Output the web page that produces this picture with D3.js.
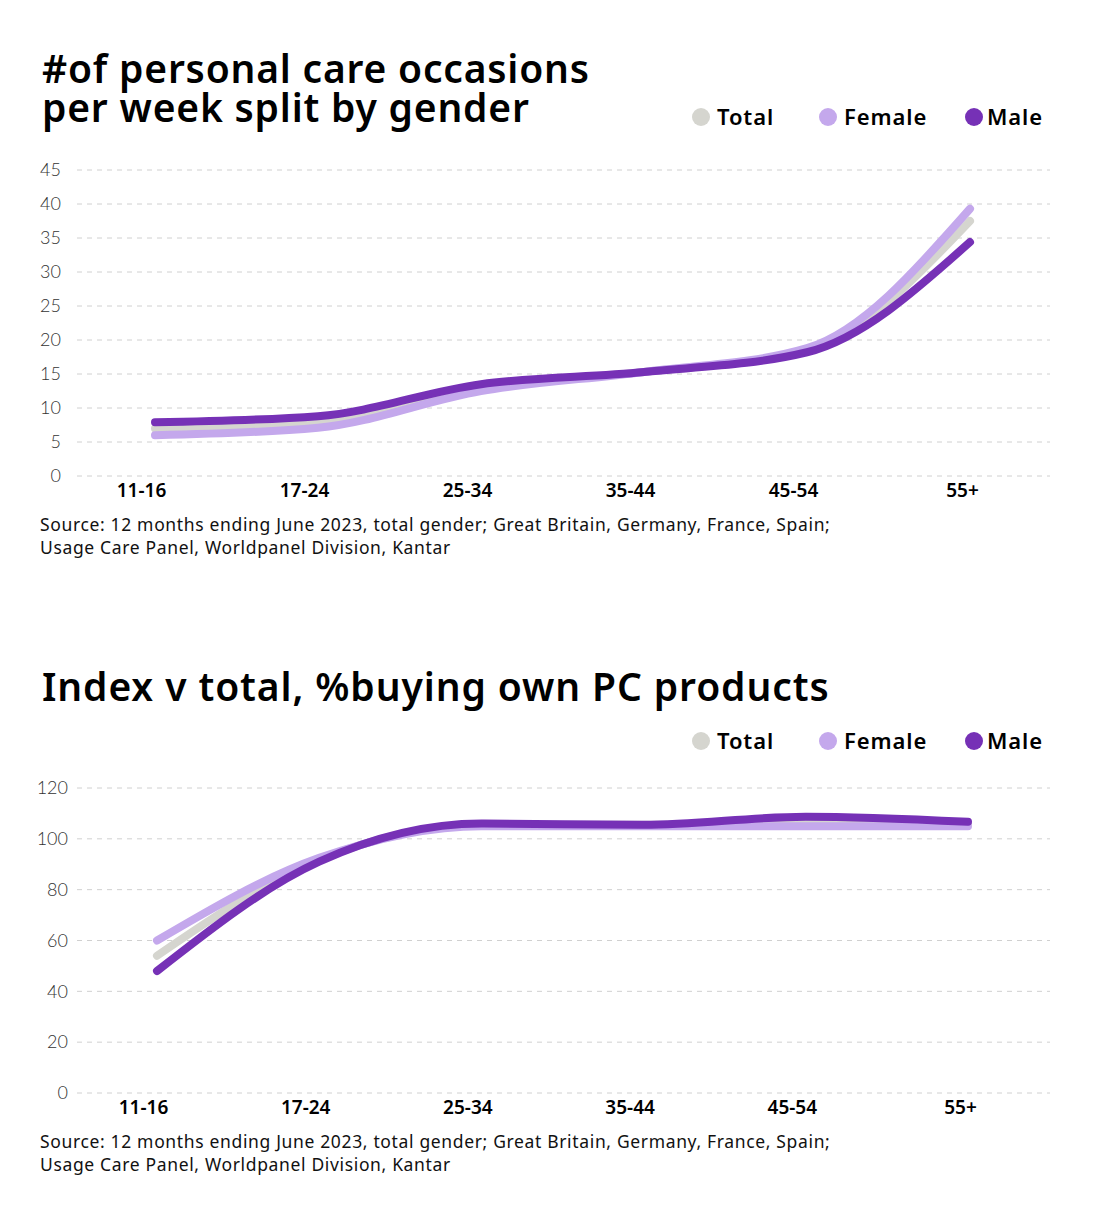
<!DOCTYPE html>
<html>
<head>
<meta charset="utf-8">
<script src="https://cdn.jsdelivr.net/npm/d3@7"></script>
<style>
  body { margin: 0; background: #fff; }
  svg { font-family: "Noto Sans", sans-serif; }
</style>
</head>
<body>
<svg width="1104" height="1212"></svg>
<script>
// data
const ageGroups = ['11-16', '17-24', '25-34', '35-44', '45-54', '55+']
const seriesNames = ['Total', 'Female', 'Male']
const colors = { Total: '#d5d5cf', Female: '#c4a8ec', Male: '#7631b6' }

const occasionsTotal = [7.0, 7.9, 13.1, 15.3, 18.5, 37.5]
const occasionsFemale = [6.0, 7.1, 12.5, 15.3, 18.8, 39.3]
const occasionsMale = [7.9, 8.8, 13.5, 15.3, 18.2, 34.4]
const occasionsTicks = [0, 5, 10, 15, 20, 25, 30, 35, 40, 45]

const indexTotal = [54, 91.7, 105.5, 105.5, 107, 106]
const indexFemale = [60, 92.5, 105, 105, 105, 105]
const indexMale = [48, 91, 106, 105.5, 108.7, 106.7]
const indexTicks = [0, 20, 40, 60, 80, 100, 120]

const sourceLines = [
  'Source: 12 months ending June 2023, total gender; Great Britain, Germany, France, Spain;',
  'Usage Care Panel, Worldpanel Division, Kantar'
]

const svg = d3.select('svg')

const drawChart = (cfg) => {
  const g = svg.append('g')

  // title (one text, lines as tspans)
  const title = g.append('text')
    .attr('font-size', 39).attr('font-weight', 600)
    .attr('letter-spacing', cfg.titleSpacing)
    .attr('fill', '#000')
  cfg.title.forEach((t, i) => {
    title.append('tspan')
      .attr('x', 42).attr('y', cfg.titleY + i * 39)
      .text(t)
  })

  // legend
  const legendX = [701, 828, 974]
  seriesNames.forEach((name, i) => {
    g.append('circle')
      .attr('cx', legendX[i]).attr('cy', cfg.legendY)
      .attr('r', 9).attr('fill', colors[name])
    g.append('text')
      .attr('x', legendX[i] + (i === 2 ? 13 : 16)).attr('y', cfg.legendY + 8)
      .attr('font-size', 22).attr('font-weight', 600)
      .attr('letter-spacing', 0.9)
      .text(name)
  })

  const xScale = d3.scalePoint()
    .domain(ageGroups)
    .range([cfg.x0, cfg.x1])

  const yScale = d3.scaleLinear()
    .domain([0, cfg.max])
    .range([cfg.yBottom, cfg.yTop])

  // grid
  g.selectAll('.grid').data(cfg.ticks)
    .enter().append('line')
      .attr('x1', 77).attr('x2', 1050)
      .attr('y1', d => yScale(d)).attr('y2', d => yScale(d))
      .attr('stroke', '#d0d0d0')
      .attr('stroke-width', 1)
      .attr('stroke-dasharray', '5,5')

  // y axis labels
  const yAxis = d3.axisLeft(yScale).tickValues(cfg.ticks).tickSize(0).tickPadding(0)
  const ya = g.append('g')
    .attr('transform', `translate(${cfg.yLabelX}, 0)`)
    .call(yAxis)
  ya.select('.domain').remove()
  ya.selectAll('text')
    .attr('font-family', 'Lato, sans-serif')
    .attr('font-size', 18).attr('font-weight', 300)
    .attr('fill', '#333')

  // x axis labels
  const xAxis = d3.axisBottom(xScale).tickSize(0).tickPadding(0)
  const xa = g.append('g')
    .attr('transform', `translate(0, ${cfg.yBottom + 7})`)
    .call(xAxis)
  xa.select('.domain').remove()
  xa.selectAll('text')
    .attr('font-family', '"Noto Sans", sans-serif')
    .attr('font-size', 19).attr('font-weight', 600)
    .attr('fill', '#000')
    .attr('dx', (d, i) => i === ageGroups.length - 1 ? -8 : -14)

  // lines
  const line = d3.line()
    .x((d, i) => xScale(ageGroups[i]))
    .y(d => yScale(d))
    .curve(d3.curveMonotoneX)

  cfg.series.forEach((vals, i) => {
    g.append('path')
      .datum(vals)
      .attr('d', line)
      .attr('fill', 'none')
      .attr('stroke', colors[seriesNames[i]])
      .attr('stroke-width', 8)
      .attr('stroke-linecap', 'round')
  })

  // source
  sourceLines.forEach((t, i) => {
    g.append('text')
      .attr('x', 40).attr('y', cfg.sourceY + i * 23)
      .attr('font-size', 17.5).attr('fill', '#111')
      .attr('letter-spacing', 0.65)
      .text(t)
  })
}

drawChart({
  title: ['#of personal care occasions', 'per week split by gender'],
  titleY: 83,
  titleSpacing: 0.8,
  legendY: 117,
  x0: 155, x1: 970,
  yTop: 170, yBottom: 476,
  max: 45,
  ticks: occasionsTicks,
  yLabelX: 61,
  series: [occasionsTotal, occasionsFemale, occasionsMale],
  sourceY: 531
})

drawChart({
  title: ['Index v total, %buying own PC products'],
  titleY: 701,
  titleSpacing: 0.9,
  legendY: 741,
  x0: 157, x1: 968,
  yTop: 788, yBottom: 1093,
  max: 120,
  ticks: indexTicks,
  yLabelX: 68,
  series: [indexTotal, indexFemale, indexMale],
  sourceY: 1148
})
</script>
</body>
</html>
